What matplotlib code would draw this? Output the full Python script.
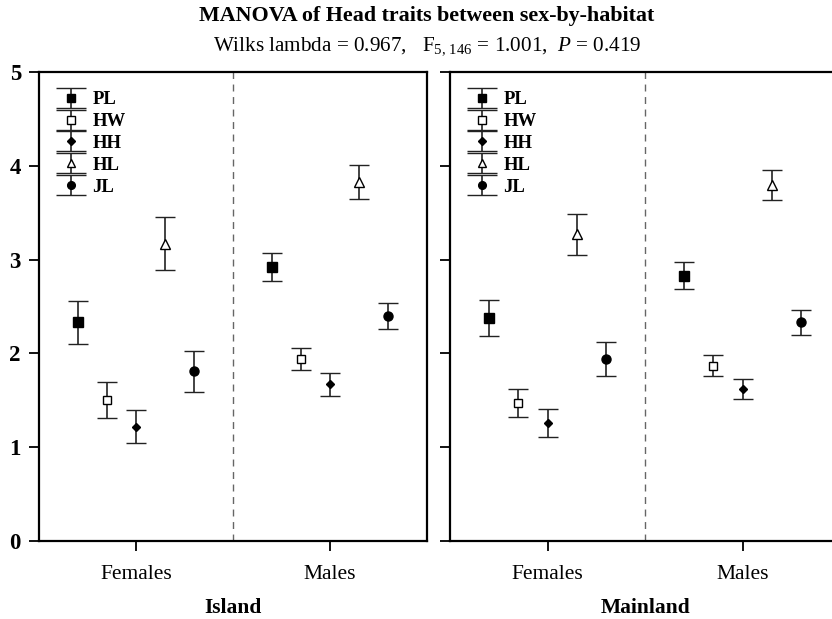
import matplotlib
matplotlib.use("Agg")
import matplotlib.pyplot as plt
from matplotlib.legend_handler import HandlerErrorbar
from matplotlib.container import ErrorbarContainer
from matplotlib.lines import Line2D

plt.rcParams['font.family'] = ['Liberation Serif', 'DejaVu Serif']
plt.rcParams['mathtext.fontset'] = 'custom'
plt.rcParams['mathtext.rm'] = 'Liberation Serif'
plt.rcParams['mathtext.it'] = 'Liberation Serif:italic'

# 数据: 每个性状的均值与误差
traits = ['PL', 'HW', 'HH', 'HL', 'JL']
sexes = ['Females', 'Males']
habitats = ['Island', 'Mainland']

island_f_mean = [2.33, 1.50, 1.22, 3.17, 1.81]
island_f_err = [0.23, 0.19, 0.18, 0.28, 0.22]
island_m_mean = [2.92, 1.94, 1.67, 3.83, 2.40]
island_m_err = [0.15, 0.12, 0.12, 0.18, 0.14]
main_f_mean = [2.38, 1.47, 1.26, 3.27, 1.94]
main_f_err = [0.19, 0.15, 0.15, 0.22, 0.18]
main_m_mean = [2.83, 1.87, 1.62, 3.80, 2.33]
main_m_err = [0.14, 0.11, 0.11, 0.16, 0.13]

means = {'Island': [island_f_mean, island_m_mean],
         'Mainland': [main_f_mean, main_m_mean]}
errs = {'Island': [island_f_err, island_m_err],
        'Mainland': [main_f_err, main_m_err]}

markers = ['s', 's', 'D', '^', 'o']
faces = ['black', 'white', 'black', 'white', 'black']
msizes = [6.5, 6, 4.5, 6.5, 6.5]
offsets = [-0.6, -0.3, 0.0, 0.3, 0.6]
centers = [1, 3]


# 图例里的帽子画宽一点
class WideCapHandler(HandlerErrorbar):
    def create_artists(self, *args, **kw):
        artists = super().create_artists(*args, **kw)
        for a in artists:
            if isinstance(a, Line2D) and a.get_marker() == '_':
                a.set_markersize(21)
            elif isinstance(a, Line2D) and a.get_marker() not in ('None', None, ''):
                a.set_markersize(a.get_markersize() * 0.85)
        return artists


fig = plt.figure(figsize=(8.32, 6.19), dpi=100)
ax1 = fig.add_axes([0.0469, 0.126, 0.4663, 0.7577])
ax2 = fig.add_axes([0.5409, 0.126, 0.469, 0.7577])

for ax, hab in zip([ax1, ax2], habitats):
    handles = []
    for i, tr in enumerate(traits):
        for j in range(2):
            h = ax.errorbar(centers[j] + offsets[i], means[hab][j][i], yerr=errs[hab][j][i],
                            fmt=markers[i], mfc=faces[i], mec='black', mew=1, ms=msizes[i],
                            ecolor='#222222', elinewidth=1.2, capsize=7, capthick=1.2)
            if j == 0:
                handles.append(h)
    ax.axvline(2, color='#666666', lw=1, ls=(0, (5, 4)))
    ax.set_xlim(0, 4)
    ax.set_ylim(0, 5)
    ax.set_xticks(centers)
    ax.set_xticklabels(sexes, fontsize=15.5)
    ax.set_yticks([0, 1, 2, 3, 4, 5])
    ax.tick_params(direction='out', length=7, width=1.3)
    ax.tick_params(axis='x', pad=10)
    for s in ax.spines.values():
        s.set_linewidth(1.6)
    ax.set_xlabel(hab, fontsize=15.5, fontweight='bold', labelpad=10)
    ax.legend(handles, traits, loc='upper left', bbox_to_anchor=(0.0, 0.995),
              frameon=False, prop={'weight': 'bold', 'size': 13.5},
              handlelength=1.6, handletextpad=0.35, labelspacing=0.25,
              handler_map={ErrorbarContainer: WideCapHandler(yerr_size=0.53)})

ax1.set_yticklabels(['0', '1', '2', '3', '4', '5'], fontsize=16.5, fontweight='bold')
ax1.tick_params(axis='y', pad=6)
ax2.set_yticklabels([])

fig.text(0.513, 0.974, 'MANOVA of Head traits between sex-by-habitat',
         ha='center', va='center', fontsize=15.8, fontweight='bold')
fig.text(0.513, 0.926, 'Wilks lambda = 0.967,   F$_{5,\\,146}$ = 1.001,  $P$ = 0.419',
         ha='center', va='center', fontsize=15.2)

fig.savefig('out.png', dpi=100)
